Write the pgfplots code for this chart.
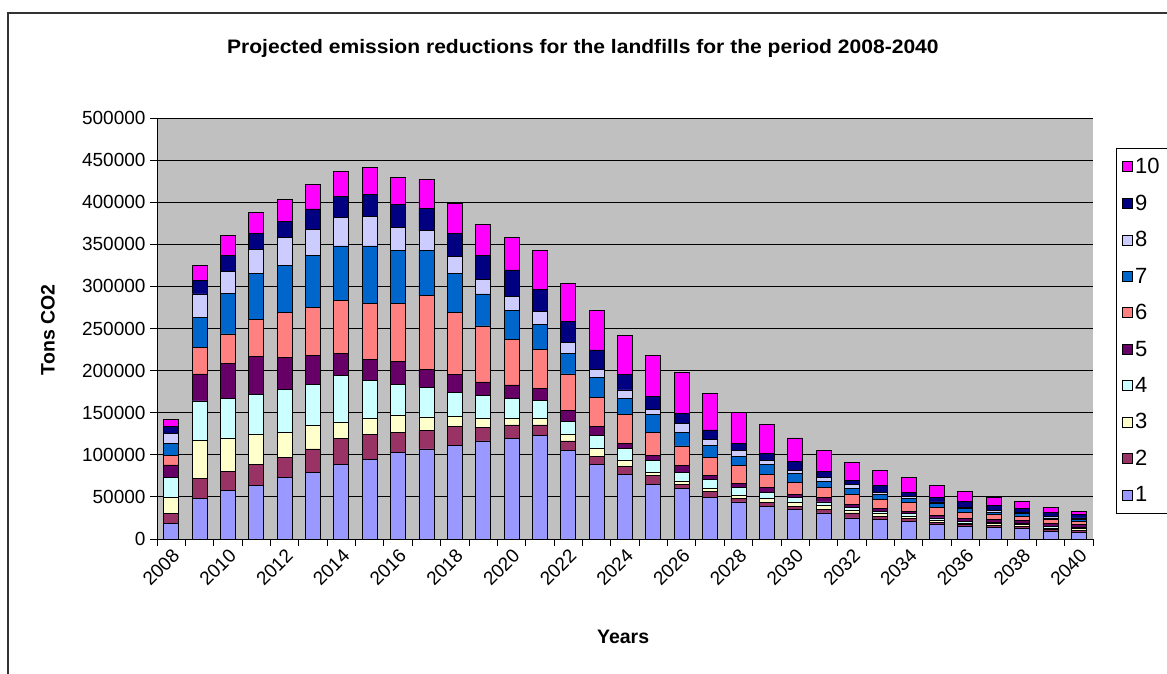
\documentclass[border=0pt]{standalone}
\usepackage{pgfplots}
\pgfplotsset{compat=1.18}
\usepackage{pgfplotstable}
\usepackage{fontspec}
\setmainfont{Liberation Sans}
\definecolor{c1}{RGB}{153,153,255}
\definecolor{c2}{RGB}{153,51,102}
\definecolor{c3}{RGB}{255,255,204}
\definecolor{c4}{RGB}{204,255,255}
\definecolor{c5}{RGB}{102,0,102}
\definecolor{c6}{RGB}{255,128,128}
\definecolor{c7}{RGB}{0,102,204}
\definecolor{c8}{RGB}{204,204,255}
\definecolor{c9}{RGB}{0,0,128}
\definecolor{c10}{RGB}{255,0,255}
\definecolor{plotbg}{RGB}{192,192,192}
\pgfplotstableread{
x year s1 s2 s3 s4 s5 s6 s7 s8 s9 s10
0 2008 18000 12000 19500 23500 15000 11000 14000 12000 9000 7500
1 2009 48000 23500 45500 47000 32000 31000 36000 28000 16500 17000
2 2010 58000 22000 40000 46500 41500 35500 48500 26000 19000 23000
3 2011 64000 25000 35000 48000 44500 44500 54000 29000 18500 25500
4 2012 73500 23500 30000 51000 38000 53000 55500 33500 19000 26000
5 2013 79000 28000 28000 49000 34000 57000 61500 31500 24000 29500
6 2014 89000 30000 19000 56000 26500 62500 65000 33500 25000 30500
7 2015 95000 29000 19000 45000 25000 66500 68500 35500 25500 32000
8 2016 103000 24000 20000 37000 27000 68500 63500 27000 27000 32000
9 2017 107000 22000 16000 35000 21000 88000 54000 23000 26500 35000
10 2018 111000 22500 12500 28000 21000 74000 46000 21000 27000 35000
11 2019 116500 16500 10000 27000 16500 66500 38000 17000 29000 37000
12 2020 119000 16500 8000 23500 16000 54500 33500 17500 31000 38500
13 2021 123000 12500 7500 21500 14500 46000 30000 15500 25500 46500
14 2022 105000 11500 7500 16000 13000 43000 24000 13000 25000 45500
15 2023 89000 9000 10000 14500 11000 35000 23500 9500 23000 46500
16 2024 77000 9000 7000 15000 6000 34000 18500 10500 18000 46500
17 2025 65000 10000 4000 14000 6000 27500 21000 6500 15000 49000
18 2026 60000 5000 4000 10500 7500 23500 16500 10000 12500 48000
19 2027 49500 7500 3500 10500 4000 22000 14000 7500 11000 43500
20 2028 44000 4500 3500 9000 5500 20500 11000 7000 9000 36500
21 2029 39000 4000 5000 7000 6000 16000 12000 4000 9000 34000
22 2030 35000 4000 5000 5000 4000 14000 11000 3000 11000 28000
23 2031 31000 4000 5000 4000 5000 12000 7000 5000 7000 25000
24 2032 25000 6000 3000 4000 3000 12000 7000 5000 5000 21000
25 2033 23000 4000 3000 3000 3000 11000 6000 2000 9000 17000
26 2034 21000 3000 3000 3000 3000 10000 5000 3000 4000 18000
27 2035 17000 3000 2000 3000 3000 9000 5000 2000 5000 15000
28 2036 15000 2000 2000 2000 3000 8000 4000 2000 7000 11000
29 2037 14000 2000 2000 2000 3000 6000 3000 2000 6000 9000
30 2038 13000 2000 2000 2000 3000 5000 3000 2000 4000 9000
31 2039 9000 2000 2000 2000 3000 5000 2000 2000 5000 6000
32 2040 8000 2000 2000 2000 3000 4000 2000 2000 4000 4000
}\emissions
\begin{document}
\begin{tikzpicture}
\useasboundingbox (0,0) rectangle (1167pt,673pt);
\fill[white] (0,0) rectangle (1167pt,673pt);
\draw[line width=1.5pt, black!80] (8pt,-5pt) -- (8pt,660pt) -- (1175pt,660pt);
\begin{axis}[
  at={(157pt,134pt)}, anchor=south west,
  scale only axis, width=936pt, height=421pt,
  ybar stacked, bar width=15pt,
  xmin=-0.5, xmax=32.5, ymin=0, ymax=500000,
  axis background/.style={fill=plotbg},
  axis x line*=bottom, axis y line*=left,
  axis line style={black, line width=0.9pt},
  xtick={0,2,...,32},
  xticklabels={2008,2010,2012,2014,2016,2018,2020,2022,2024,2026,2028,2030,2032,2034,2036,2038,2040},
  minor xtick={-0.5,0.5,...,32.5},
  major x tick style={draw=none},
  minor tick length=7pt,
  minor x tick style={black, line width=0.9pt},
  ytick={0,50000,...,500000},
  major tick length=7pt,
  tick align=outside,
  y tick style={black, line width=0.9pt},
  ymajorgrids, grid style={black, line width=0.9pt},
  scaled y ticks=false,
  /pgf/number format/fixed, /pgf/number format/1000 sep={},
  /pgf/number format/assume math mode=true,
  yticklabel style={font=\fontsize{19}{19}\selectfont, xshift=-1pt},
  xticklabel style={font=\fontsize{19}{19}\selectfont, rotate=45, anchor=north east, inner sep=1pt},
  title={\scalebox{1.08}[1]{\bfseries\fontsize{19.5}{20}\selectfont Projected emission reductions for the landfills for the period 2008-2040}},
  title style={at={(axis description cs:0.455,1.152)}, anchor=center},
  xlabel={\bfseries Years},
  xlabel style={font=\fontsize{19.5}{20}\selectfont, at={(axis description cs:0.498,-0.233)}, anchor=center},
  ylabel={\bfseries Tons CO2},
  ylabel style={font=\fontsize{19.5}{20}\selectfont, at={(axis description cs:-0.1165,0.497)}, anchor=center, rotate=0},
  legend style={at={(1.0246,0.929)}, anchor=north west, draw=black, line width=0.9pt, fill=white,
    font=\fontsize{22}{22}\selectfont, row sep=15.7pt, inner xsep=6pt, inner ysep=8pt},
  legend cell align=left,
  reverse legend,
  every axis plot post/.append style={legend image code/.code={\draw[##1, draw=black, line width=0.6pt] (0pt,-5pt) rectangle (10pt,5pt);}},
]
\addplot[fill=c1, draw=black, line width=0.8pt] table[x=x, y=s1] {\emissions};
\addplot[fill=c2, draw=black, line width=0.8pt] table[x=x, y=s2] {\emissions};
\addplot[fill=c3, draw=black, line width=0.8pt] table[x=x, y=s3] {\emissions};
\addplot[fill=c4, draw=black, line width=0.8pt] table[x=x, y=s4] {\emissions};
\addplot[fill=c5, draw=black, line width=0.8pt] table[x=x, y=s5] {\emissions};
\addplot[fill=c6, draw=black, line width=0.8pt] table[x=x, y=s6] {\emissions};
\addplot[fill=c7, draw=black, line width=0.8pt] table[x=x, y=s7] {\emissions};
\addplot[fill=c8, draw=black, line width=0.8pt] table[x=x, y=s8] {\emissions};
\addplot[fill=c9, draw=black, line width=0.8pt] table[x=x, y=s9] {\emissions};
\addplot[fill=c10, draw=black, line width=0.8pt] table[x=x, y=s10] {\emissions};
\legend{1,2,3,4,5,6,7,8,9,10}
\end{axis}
\end{tikzpicture}
\end{document}
